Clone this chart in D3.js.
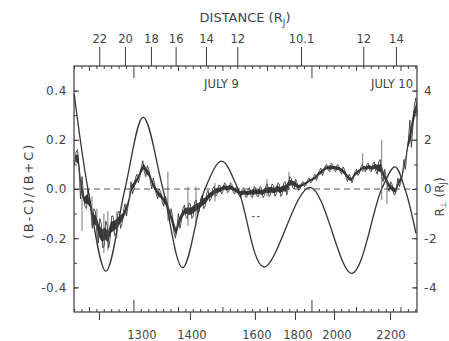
<!DOCTYPE html>
<html>
<head>
<meta charset="utf-8">
<script src="https://cdn.jsdelivr.net/npm/d3@7"></script>
<style>
  body { margin: 0; background: #fff; }
  text { font-family: "DejaVu Sans", sans-serif; fill: #444; }
</style>
</head>
<body>
<div id="chart"></div>
<script>
// time axis in hours from July 9 00:00
const traceT = [
  -8.0,-7.6,-7.2,-6.8,-6.4,-6.0,-5.6,-5.2,-4.8,-4.4,
  -4.0,-3.6,-3.2,-2.8,-2.4,-2.0,-1.6,-1.2,-0.8,-0.4,
  0.0,0.4,0.8,1.2,1.6,2.0,2.4,2.8,3.2,3.6,
  4.0,4.4,4.8,5.2,5.6,6.0,6.4,6.8,7.2,7.6,
  8.0,8.4,8.8,9.2,9.6,10.0,10.4,10.8,11.2,11.6,
  12.0,12.4,12.8,13.2,13.6,14.0,14.4,14.8,15.2,15.6,
  16.0,16.4,16.8,17.2,17.6,18.0,18.4,18.8,19.2,19.6,
  20.0,20.4,20.8,21.2,21.6,22.0,22.4,22.8,23.2,23.6,
  24.0,24.4,24.8,25.2,25.6,26.0,26.4,26.8,27.2,27.6,
  28.0,28.4,28.8,29.2,29.6,30.0,30.4,30.8,31.2,31.6,
  32.0,32.4,32.8,33.2,33.6,34.0,34.4,34.8,35.2,35.6,
  36.0,36.4,36.8,37.2,37.6,38.0
];
const traceLo = [
  0.10,0.08,-0.04,-0.07,-0.08,-0.09,-0.16,-0.17,-0.22,-0.24,
  -0.23,-0.24,-0.20,-0.19,-0.18,-0.16,-0.14,-0.11,-0.07,-0.02,
  0.00,0.025,0.05,0.07,0.05,0.035,0.00,-0.02,-0.04,-0.05,
  -0.07,-0.09,-0.13,-0.18,-0.20,-0.16,-0.13,-0.11,-0.12,-0.12,
  -0.11,-0.10,-0.09,-0.08,-0.07,-0.05,-0.04,-0.03,-0.025,-0.02,
  -0.01,-0.015,-0.01,-0.015,-0.02,-0.03,-0.035,-0.03,-0.035,-0.03,
  -0.035,-0.03,-0.03,-0.035,-0.025,-0.03,-0.025,-0.03,-0.02,-0.03,
  -0.02,-0.025,0.00,0.005,0.00,-0.005,0.00,0.01,0.015,0.025,
  0.03,0.035,0.05,0.055,0.07,0.075,0.07,0.075,0.07,0.07,
  0.06,0.045,0.03,0.025,0.045,0.055,0.065,0.075,0.07,0.075,
  0.07,0.075,0.06,0.05,0.03,0.01,-0.01,-0.02,-0.025,0.01,
  0.03,0.08,0.15,0.17,0.25,0.30
];
const traceHi = [
  0.15,0.16,0.05,-0.02,0.00,-0.03,-0.08,-0.09,-0.12,-0.14,
  -0.13,-0.15,-0.11,-0.11,-0.10,-0.09,-0.085,-0.06,-0.03,0.03,
  0.045,0.06,0.09,0.115,0.095,0.08,0.045,0.02,0.00,-0.01,
  -0.03,-0.04,-0.08,-0.11,-0.15,-0.10,-0.08,-0.065,-0.06,-0.06,
  -0.05,-0.045,-0.04,-0.025,-0.02,-0.005,0.00,0.01,0.015,0.015,
  0.025,0.02,0.025,0.02,0.01,0.005,0.00,0.005,0.00,0.005,
  0.01,0.005,0.01,0.005,0.015,0.02,0.02,0.015,0.025,0.02,
  0.025,0.03,0.05,0.045,0.04,0.025,0.025,0.03,0.035,0.045,
  0.05,0.06,0.075,0.085,0.095,0.10,0.105,0.10,0.10,0.095,
  0.09,0.08,0.06,0.05,0.07,0.08,0.09,0.10,0.10,0.105,
  0.10,0.11,0.11,0.12,0.08,0.05,0.03,0.02,0.01,0.045,
  0.06,0.12,0.20,0.28,0.34,0.37
];

// isolated spikes in the measured trace
const spikeT  = [-7.0,-5.66,-4.99,-4.05,-3.51,-2.3,4.58,7.28,8.36,10.92,17.93,20.9,30.84,33.40,34.11];
const spikeLo = [-0.17,-0.15,-0.22,-0.26,-0.25,-0.2,-0.13,-0.15,-0.15,-0.05,-0.03,0.0,0.07,-0.045,-0.06];
const spikeHi = [-0.02,-0.03,-0.08,-0.10,-0.09,-0.09,0.07,0.01,0.01,0.025,0.04,0.07,0.145,0.20,0.05];

// model curve (right axis units / 10 = left axis units)
const modelT = [-8.05,-6.2,-3.78,-1.21,1.25,3.91,6.57,9.57,11.82,14.02,17.53,23.73,29.35,33.40,35.19,36.54,38.02];
const modelV = [0.385,0.0,-0.334,0.0,0.292,0.0,-0.32,0.0,0.113,0.0,-0.317,0.007,-0.343,0.0,0.09,0.0,-0.18];

// top axis: distance in RJ
const distT = [-4.68,-1.21,2.29,5.62,9.71,13.93,22.52,30.92,35.32];
const distLabels = ["22","20","18","16","14","12","10.1","12","14"];

// bottom axis
const bottomTickT = [-4.72,7.55,16.31,21.71,26.97,34.52];
const bottomLabelT = [1.08,7.82,16.58,22.11,27.37,34.65];
const bottomLabels = ["1300","1400","1600","1800","2000","2200"];

const leftTicks = [-0.4,-0.2,0.0,0.2,0.4];
const leftLabels = ["-0.4","-0.2","0.0","0.2","0.4"];
const rightTicks = [-4,-2,0,2,4];
const rightLabels = ["-4","-2","0","2","4"];

const margin = {top: 66, right: 32, bottom: 29, left: 74};
const width = 449 - margin.left - margin.right;
const height = 341 - margin.top - margin.bottom;

const svg = d3.select("#chart")
  .append("svg")
  .attr("width", 449)
  .attr("height", 341)
  .append("g")
  .attr("transform", `translate(${margin.left}, ${margin.top})`);

const x = d3.scaleLinear().domain([-8.08, 38.16]).range([0, width]);
const y = d3.scaleLinear().domain([-0.5, 0.5]).range([height, 0]);
const yR = d3.scaleLinear().domain([-5, 5]).range([height, 0]);

const ink = "#3a3a3a";
const labelStyle = g => g.selectAll("text")
  .style("font-size", "12px").style("letter-spacing", "0.6px").attr("fill", "#444");

// zero line
svg.append("line")
  .attr("x1", 0).attr("x2", width)
  .attr("y1", y(0)).attr("y2", y(0))
  .attr("stroke", "#555").attr("stroke-width", 1)
  .attr("stroke-dasharray", "6,4");

// hour ticks along top and bottom
const hours = d3.range(-8, 39, 1);
const tickLen = h => (h % 24 === 0 ? 12 : (h % 6 === 0 ? 5 : 3));
svg.append("g").selectAll("line")
  .data(hours).enter().append("line")
  .attr("x1", d => x(d)).attr("x2", d => x(d))
  .attr("y1", 0).attr("y2", d => tickLen(d))
  .attr("stroke", ink).attr("stroke-width", 1);
svg.append("g").selectAll("line")
  .data(hours).enter().append("line")
  .attr("x1", d => x(d)).attr("x2", d => x(d))
  .attr("y1", height).attr("y2", d => height - tickLen(d))
  .attr("stroke", ink).attr("stroke-width", 1);

// top distance axis
svg.append("g")
  .call(d3.axisTop(x).tickValues(distT).tickSize(19).tickPadding(4)
    .tickFormat((d, i) => distLabels[i]))
  .call(g => g.select(".domain").remove())
  .call(g => g.selectAll("line").attr("stroke", ink))
  .call(g => g.selectAll("text").style("font-size", "11.5px").attr("fill", "#444"));

// bottom axis
svg.append("g")
  .attr("transform", `translate(0, ${height})`)
  .call(d3.axisBottom(x).tickValues(bottomTickT).tickSize(8).tickFormat(""))
  .call(g => g.select(".domain").remove())
  .call(g => g.selectAll("line").attr("stroke", ink));
svg.append("g").selectAll("text")
  .data(bottomLabels).enter().append("text")
  .attr("x", (d, i) => x(bottomLabelT[i]))
  .attr("y", height + 27)
  .attr("text-anchor", "middle")
  .style("font-size", "11.5px")
  .text(d => d);

// left axis
svg.append("g")
  .call(d3.axisLeft(y).tickValues(d3.range(-4, 5).map(v => v / 10)).tickSize(-3).tickFormat(""))
  .call(g => g.select(".domain").remove())
  .call(g => g.selectAll("line").attr("stroke", ink));
svg.append("g")
  .call(d3.axisLeft(y).tickValues(leftTicks).tickSize(-5).tickPadding(7)
    .tickFormat((d, i) => leftLabels[i]))
  .call(g => g.select(".domain").remove())
  .call(g => g.selectAll("line").attr("stroke", ink))
  .call(labelStyle);

// right axis
svg.append("g")
  .attr("transform", `translate(${width}, 0)`)
  .call(d3.axisRight(yR).tickValues(d3.range(-4, 5)).tickSize(-3).tickFormat(""))
  .call(g => g.select(".domain").remove())
  .call(g => g.selectAll("line").attr("stroke", ink));
svg.append("g")
  .attr("transform", `translate(${width}, 0)`)
  .call(d3.axisRight(yR).tickValues(rightTicks).tickSize(-5).tickPadding(7)
    .tickFormat((d, i) => rightLabels[i]))
  .call(g => g.select(".domain").remove())
  .call(g => g.selectAll("line").attr("stroke", ink))
  .call(labelStyle);

// frame
svg.append("rect")
  .attr("width", width).attr("height", height)
  .attr("fill", "none").attr("stroke", ink).attr("stroke-width", 1.2);

// model curve
const modelLine = d3.line()
  .x((d, i) => x(modelT[i]))
  .y(d => y(d))
  .curve(d3.curveCatmullRom.alpha(0.5));
svg.append("path")
  .datum(modelV)
  .attr("d", modelLine)
  .attr("fill", "none").attr("stroke", "#333").attr("stroke-width", 1.3);

// measured trace: narrow dark core inside the lo/hi envelope, zigzag for the noise
const inset = 0.25;
const band = d3.area()
  .x((d, i) => x(traceT[i] + 0.1))
  .y0((d, i) => y(traceLo[i] + inset * (d - traceLo[i])))
  .y1((d, i) => y(d - inset * (d - traceLo[i])));
svg.append("path")
  .datum(traceHi)
  .attr("d", band)
  .attr("fill", "#3c3c3c");

const zig = [];
traceT.forEach((t, i) => {
  if (i % 2 === 0) {
    zig.push([t, traceLo[i]]);
    zig.push([t + 0.2, traceHi[i]]);
  } else {
    zig.push([t, traceHi[i]]);
    zig.push([t + 0.2, traceLo[i]]);
  }
});
svg.append("path")
  .datum(zig)
  .attr("d", d3.line().x(d => x(d[0])).y(d => y(d[1])))
  .attr("fill", "none").attr("stroke", "#2a2a2a").attr("stroke-width", 0.8);

svg.append("g").selectAll("line")
  .data(spikeT).enter().append("line")
  .attr("x1", d => x(d)).attr("x2", d => x(d))
  .attr("y1", (d, i) => y(spikeLo[i])).attr("y2", (d, i) => y(spikeHi[i]))
  .attr("stroke", "#555").attr("stroke-width", 0.8);

// stray mark
svg.append("line")
  .attr("x1", x(15.9)).attr("x2", x(17.1))
  .attr("y1", y(-0.112)).attr("y2", y(-0.112))
  .attr("stroke", "#666").attr("stroke-width", 1).attr("stroke-dasharray", "3,2");

// day labels
svg.append("text").attr("x", x(11.8)).attr("y", 22)
  .attr("text-anchor", "middle").style("font-size", "11.5px").text("JULY 9");
svg.append("text").attr("x", width - 4).attr("y", 22)
  .attr("text-anchor", "end").style("font-size", "11.5px").text("JULY 10");

// titles
const distTitle = svg.append("text").attr("x", 245 - margin.left).attr("y", -44)
  .attr("text-anchor", "middle").style("font-size", "13px");
distTitle.append("tspan").text("DISTANCE (R");
distTitle.append("tspan").attr("dy", 4).style("font-size", "9px").text("J");
distTitle.append("tspan").attr("dy", -4).text(")");

svg.append("text")
  .attr("transform", `translate(${-41}, ${y(0) + 2}) rotate(-90)`)
  .attr("text-anchor", "middle").style("font-size", "13px").style("letter-spacing", "1.8px")
  .text("(B-C)/(B+C)");

const rTitle = svg.append("text")
  .attr("transform", `translate(${width + 27}, ${y(0) + 8}) rotate(-90)`)
  .attr("text-anchor", "middle").style("font-size", "12px");
rTitle.append("tspan").text("R");
rTitle.append("tspan").attr("dy", 2).style("font-size", "8px").text("\u22A5");
rTitle.append("tspan").attr("dy", -2).text(" (R");
rTitle.append("tspan").attr("dy", 2).style("font-size", "8px").text("J");
rTitle.append("tspan").attr("dy", -2).text(")");
</script>
</body>
</html>
